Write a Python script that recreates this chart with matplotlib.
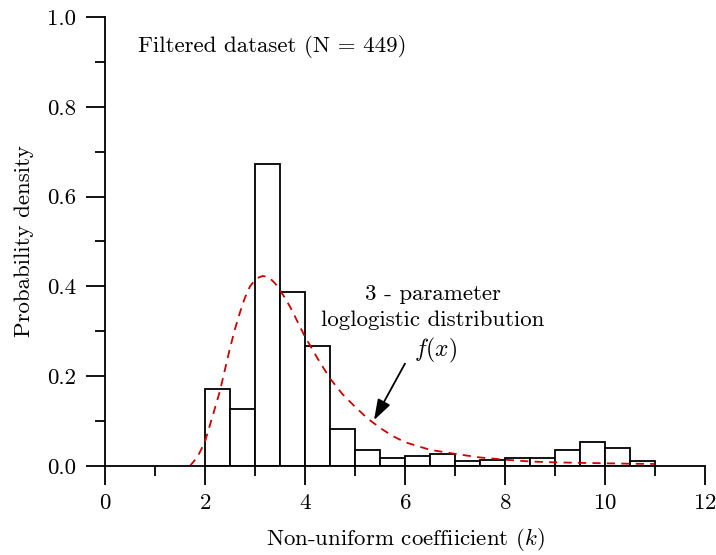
import matplotlib
matplotlib.use("Agg")
import matplotlib.pyplot as plt
from matplotlib.ticker import MultipleLocator, FormatStrFormatter

plt.rcParams["font.family"] = ["cmr10", "DejaVu Serif"]
plt.rcParams["mathtext.fontset"] = "cm"
plt.rcParams["axes.formatter.use_mathtext"] = True

# histogram bins (width 0.5) and densities
bin_left = [2.0, 2.5, 3.0, 3.5, 4.0, 4.5, 5.0, 5.5, 6.0, 6.5,
            7.0, 7.5, 8.0, 8.5, 9.0, 9.5, 10.0, 10.5]
density = [0.171, 0.126, 0.673, 0.388, 0.267, 0.082, 0.036, 0.018, 0.023, 0.027,
           0.010, 0.014, 0.018, 0.018, 0.036, 0.054, 0.041, 0.010]
bin_width = 0.5

# fitted 3-parameter loglogistic pdf, sampled
fit_x = [1.70, 1.85, 2.0, 2.15, 2.3, 2.4, 2.5, 2.6, 2.7, 2.8, 2.9, 3.0, 3.08, 3.15,
         3.22, 3.3, 3.4, 3.5, 3.6, 3.7, 3.8, 3.9, 4.0, 4.25, 4.5, 4.75, 5.0, 5.25,
         5.5, 5.75, 6.0, 6.5, 7.0, 7.5, 8.0, 8.5, 9.0, 9.5, 10.0, 10.5, 11.0]
fit_y = [0.0, 0.02, 0.054, 0.11, 0.167, 0.215, 0.262, 0.305, 0.342, 0.375, 0.40, 0.414,
         0.420, 0.423, 0.422, 0.418, 0.407, 0.392, 0.374, 0.355, 0.333, 0.31, 0.288,
         0.24, 0.195, 0.16, 0.132, 0.106, 0.085, 0.067, 0.053, 0.036, 0.027, 0.019,
         0.014, 0.010, 0.008, 0.007, 0.006, 0.005, 0.0045]

fs = 16.5

fig = plt.figure(figsize=(7.16, 5.55), dpi=100)
ax = fig.add_axes([0.1466, 0.1604, 0.8380, 0.8090])

ax.bar(bin_left, density, width=bin_width, align="edge",
       facecolor="white", edgecolor="black", linewidth=1.3, zorder=2)
ax.plot(fit_x, fit_y, color="#cc0000", ls=(0, (4.5, 3.5)), lw=1.3, zorder=3)

ax.set_xlim(0, 12)
ax.set_ylim(0, 1.0)
ax.xaxis.set_major_locator(MultipleLocator(2))
ax.xaxis.set_minor_locator(MultipleLocator(1))
ax.yaxis.set_major_locator(MultipleLocator(0.2))
ax.yaxis.set_minor_locator(MultipleLocator(0.1))
ax.yaxis.set_major_formatter(FormatStrFormatter("%.1f"))

for s in ["top", "right"]:
    ax.spines[s].set_visible(False)
for s in ["left", "bottom"]:
    ax.spines[s].set_linewidth(1.3)
    ax.spines[s].set_zorder(4)

ax.tick_params(axis="both", which="major", direction="out", length=14, width=1.3,
               labelsize=fs)
ax.tick_params(axis="both", which="minor", direction="out", length=7, width=1.3)
ax.tick_params(axis="y", which="major", pad=7)
ax.tick_params(axis="x", which="major", pad=6)

ax.set_xlabel("Non-uniform coeffiicient ($k$)", fontsize=fs, labelpad=9)
ax.set_ylabel("Probability density", fontsize=fs, labelpad=9)

ax.text(0.66, 0.935, "Filtered dataset (N = 449)", fontsize=fs, va="center", ha="left")
ax.text(6.56, 0.383, "3 - parameter", fontsize=fs, ha="center", va="center")
ax.text(6.56, 0.325, "loglogistic distribution", fontsize=fs, ha="center", va="center")
ax.text(6.62, 0.258, "$f(x)$", fontsize=17, ha="center", va="center")
ax.annotate("", xy=(5.38, 0.102), xytext=(6.0, 0.228),
            arrowprops=dict(arrowstyle="-|>,head_length=0.9,head_width=0.3",
                            color="black", lw=1.3, shrinkA=0, shrinkB=0,
                            mutation_scale=14))

fig.savefig("out.png", dpi=100)
